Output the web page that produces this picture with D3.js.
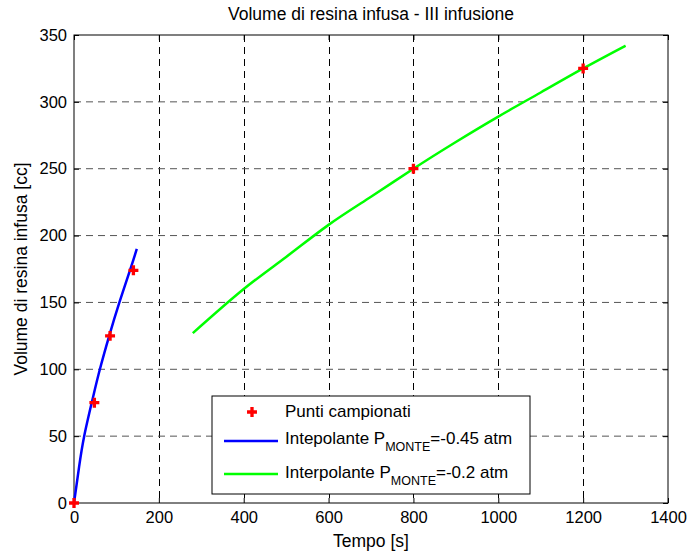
<!DOCTYPE html>
<html>
<head>
<meta charset="utf-8">
<script src="https://cdn.jsdelivr.net/npm/d3@7"></script>
<style>
  body { margin: 0; background: #fff; }
  svg { display: block; }
  text { font-family: "Liberation Sans", Arial, sans-serif; fill: #000; }
</style>
</head>
<body>
<script>
// sampled points
var sampleT = [0, 48, 85, 140, 800, 1200]
var sampleV = [0, 75, 125, 174, 250, 325]

// interpolant at P_MONTE = -0.45 atm
var blueT = [0, 12, 24, 44, 61, 83, 107, 134, 148]
var blueV = [0, 27, 50, 78, 100, 125, 150, 176, 190]

// interpolant at P_MONTE = -0.2 atm
var greenT = [280, 400, 500, 600, 700, 800, 900, 1000, 1100, 1200, 1300]
var greenV = [127, 160, 184, 208, 229, 250, 270, 289, 307, 325, 342]

var xTicks = [0, 200, 400, 600, 800, 1000, 1200, 1400]
var yTicks = [0, 50, 100, 150, 200, 250, 300, 350]

var svgWidth = 689
var svgHeight = 553
var margin = {top: 35, right: 21, bottom: 50, left: 74}
var width = svgWidth - margin.left - margin.right
var height = svgHeight - margin.top - margin.bottom

var svg = d3.select("body").append("svg")
    .attr("width", svgWidth)
    .attr("height", svgHeight)

var g = svg.append("g")
    .attr("transform", "translate(" + margin.left + "," + margin.top + ")")

var x = d3.scaleLinear().domain([0, 1400]).range([0, width])
var y = d3.scaleLinear().domain([0, 350]).range([height, 0])

// grid
g.selectAll(".vgrid")
  .data(xTicks.slice(1, -1))
  .enter().append("line")
  .attr("x1", d => Math.round(x(d)) + 0.5)
  .attr("x2", d => Math.round(x(d)) + 0.5)
  .attr("y1", 0).attr("y2", height)
  .attr("stroke", "#000")
  .attr("stroke-dasharray", "7,5")

g.selectAll(".hgrid")
  .data(yTicks.slice(1, -1))
  .enter().append("line")
  .attr("y1", d => y(d))
  .attr("y2", d => y(d))
  .attr("x1", 0).attr("x2", width)
  .attr("stroke", "#555")
  .attr("stroke-dasharray", "7,5")

// axes
var fmt = d3.format("d")
var xAxis = d3.axisBottom(x).tickValues(xTicks).tickFormat(fmt).tickSizeInner(-5).tickSizeOuter(0).tickPadding(8)
var yAxis = d3.axisLeft(y).tickValues(yTicks).tickFormat(fmt).tickSizeInner(-5).tickSizeOuter(0).tickPadding(9)

var gx = g.append("g").attr("transform", "translate(0," + height + ")").call(xAxis)
var gy = g.append("g").call(yAxis)
g.append("g").call(d3.axisTop(x).tickValues(xTicks).tickSizeInner(-5).tickSizeOuter(0).tickFormat(""))
g.append("g").attr("transform", "translate(" + width + ",0)")
  .call(d3.axisRight(y).tickValues(yTicks).tickSizeInner(-5).tickSizeOuter(0).tickFormat(""))
g.selectAll(".domain").remove()
g.selectAll(".tick line").attr("stroke", "#000")
g.selectAll(".tick text")
  .style("font-size", "16.5px")
  .style("font-family", "'Liberation Sans', Arial, sans-serif")
gy.selectAll(".tick text").attr("dx", "2")

g.append("rect")
  .attr("width", width).attr("height", height)
  .attr("fill", "none").attr("stroke", "#000")

// lines
var line = d3.line().curve(d3.curveNatural)
g.append("path")
  .attr("d", line(blueT.map((t, i) => [x(t), y(blueV[i])])))
  .attr("fill", "none").attr("stroke", "#0000ff").attr("stroke-width", 2.5)
g.append("path")
  .attr("d", line(greenT.map((t, i) => [x(t), y(greenV[i])])))
  .attr("fill", "none").attr("stroke", "#00ff00").attr("stroke-width", 2.5)

var marker = d3.symbol().type(d3.symbolCross).size(55)
g.selectAll(".pt")
  .data(sampleT)
  .enter().append("path")
  .attr("d", marker)
  .attr("transform", (d, i) => "translate(" + x(d) + "," + y(sampleV[i]) + ")")
  .attr("fill", "#ff0000")

// titles
svg.append("text")
  .attr("x", 371).attr("y", 20)
  .attr("text-anchor", "middle")
  .style("font-size", "17.5px")
  .text("Volume di resina infusa - III infusione")

svg.append("text")
  .attr("x", 371).attr("y", 547)
  .attr("text-anchor", "middle")
  .style("font-size", "17.5px")
  .text("Tempo [s]")

svg.append("text")
  .attr("transform", "translate(27," + (margin.top + height / 2) + ") rotate(-90)")
  .attr("text-anchor", "middle")
  .style("font-size", "17.5px")
  .text("Volume di resina infusa [cc]")

// legend
var legend = svg.append("g").attr("transform", "translate(212,396)")
legend.append("rect")
  .attr("width", 318).attr("height", 98)
  .attr("fill", "#fff").attr("stroke", "#000")

legend.append("path")
  .attr("d", marker)
  .attr("transform", "translate(40,16)")
  .attr("fill", "#ff0000")
legend.append("text").attr("x", 73).attr("y", 21)
  .style("font-size", "17px").text("Punti campionati")

legend.append("line")
  .attr("x1", 12).attr("x2", 66).attr("y1", 45).attr("y2", 45)
  .attr("stroke", "#0000ff").attr("stroke-width", 2.5)
var t1 = legend.append("text").attr("x", 73).attr("y", 48).style("font-size", "17px")
t1.append("tspan").text("Intepolante P")
t1.append("tspan").attr("dy", 7).style("font-size", "12.5px").text("MONTE")
t1.append("tspan").attr("dy", -7).text("=-0.45 atm")

legend.append("line")
  .attr("x1", 12).attr("x2", 66).attr("y1", 78).attr("y2", 78)
  .attr("stroke", "#00ff00").attr("stroke-width", 2.5)
var t2 = legend.append("text").attr("x", 73).attr("y", 82).style("font-size", "17px")
t2.append("tspan").text("Interpolante P")
t2.append("tspan").attr("dy", 7).style("font-size", "12.5px").text("MONTE")
t2.append("tspan").attr("dy", -7).text("=-0.2 atm")
</script>
</body>
</html>
